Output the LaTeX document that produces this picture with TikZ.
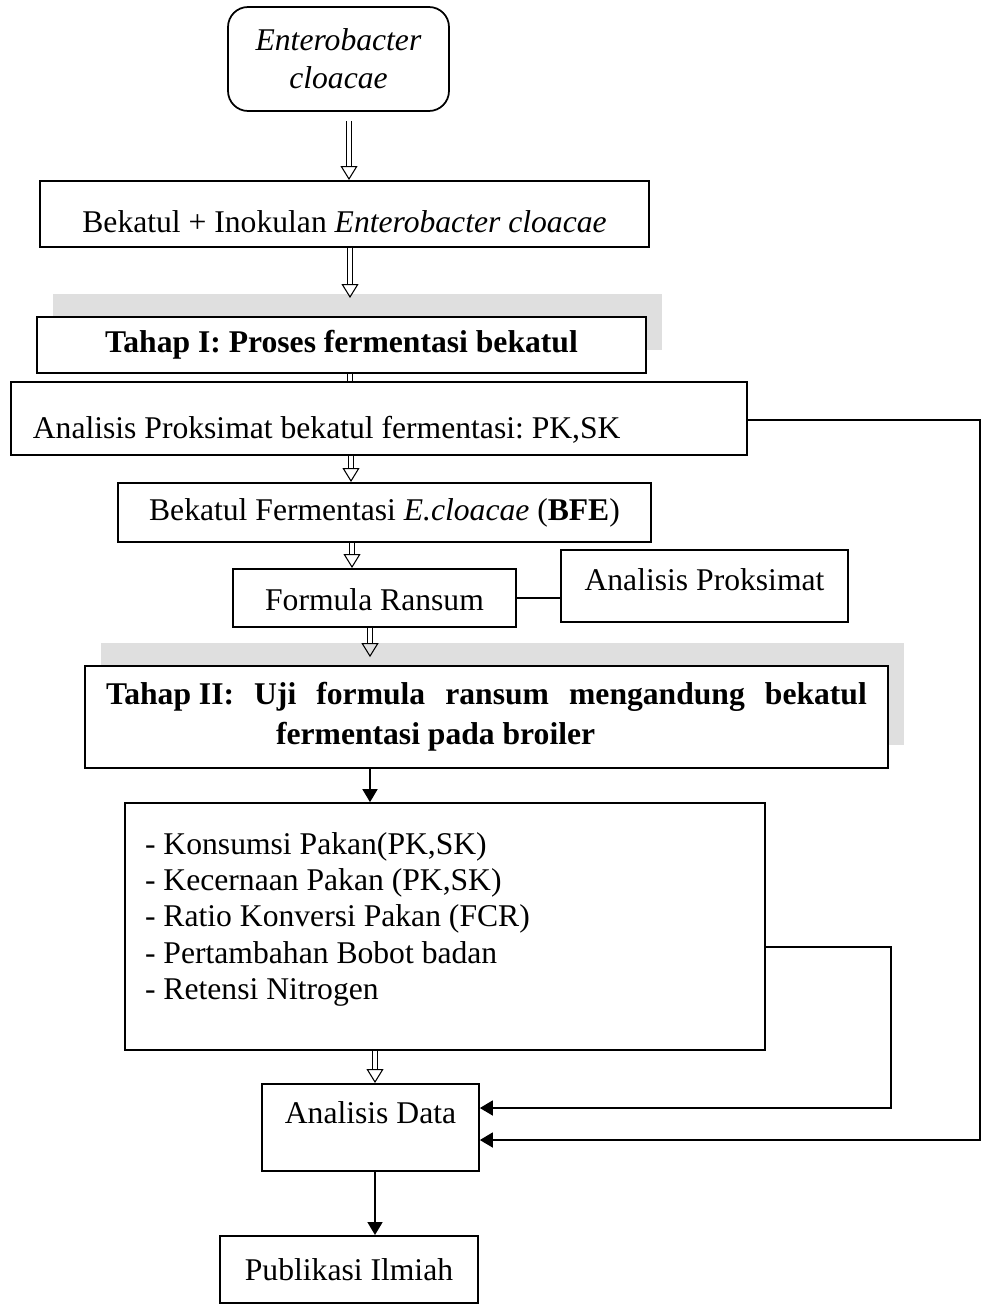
\documentclass[tikz,border=0pt]{standalone}
\usepackage{fontspec}
\setmainfont{Liberation Serif}
\usetikzlibrary{arrows.meta,shadows,positioning}

\begin{document}
\begin{tikzpicture}[
  x=0.02cm, y=-0.02cm,
  box/.style={draw, line width=1pt, fill=white, align=center, font=\fontsize{18}{21.5}\selectfont},
  txt/.style 2 args={inner ysep=0pt, text height=#1, text depth=#2},
  bold/.style={font=\fontsize{18}{22.7}\selectfont\bfseries},
  shbox/.style={box, drop shadow={shadow xshift=0.32cm, shadow yshift=0.46cm, fill=gray!25, opacity=1}},
  hol/.style={double, double distance=2.3pt, line width=0.6pt, -{Triangle[open, length=2.8mm, width=3.4mm]}},
  dbl/.style={double, double distance=2.3pt, line width=0.6pt},
  arr/.style={line width=1pt, -{Triangle[length=2.6mm, width=3mm]}}
]
\useasboundingbox (0,0) rectangle (983,1304);

\node[box, rounded corners=0.4cm, minimum width=4.42cm, minimum height=2.08cm] (ent) at (338.5,59) {\textit{Enterobacter}\\\textit{cloacae}};
\node[box, txt={1.04cm}{0.28cm}, minimum width=12.18cm, anchor=north] (bek) at (344.5,180) {Bekatul + Inokulan \textit{Enterobacter cloacae}};
\node[shbox, bold, txt={0.72cm}{0.40cm}, minimum width=12.18cm, anchor=north] (tah1) at (341.5,316) {Tahap I: Proses fermentasi bekatul};
\node[box, txt={1.14cm}{0.32cm}, text width=13.84cm, inner xsep=0.44cm, align=left, anchor=north west] (anp1) at (10,381)
  {\frenchspacing\spaceskip=0.25em\relax Analisis Proksimat bekatul fermentasi: PK,SK};
\node[box, txt={0.76cm}{0.42cm}, minimum width=10.66cm, anchor=north] (bfe) at (384.5,482) {Bekatul Fermentasi \textit{E.cloacae} (\textbf{BFE})};
\node[box, txt={0.84cm}{0.32cm}, minimum width=5.66cm, anchor=north] (frm) at (374.5,568) {Formula Ransum};
\node[box, txt={0.82cm}{0.62cm}, minimum width=5.74cm, anchor=north] (anp2) at (704.5,549) {Analisis Proksimat};
\node[shbox, bold, text width=15.22cm, inner xsep=0.42cm, align=left, minimum height=2.04cm] (tah2) at (486.5,717)
  {\spaceskip=0.25em\relax\hbox to 15.22cm{Tahap II:\hfill Uji\hfill formula\hfill ransum\hfill mengandung\hfill bekatul}\\\hspace*{3.4cm}fermentasi pada broiler};
\node[box, font=\fontsize{18}{20.7}\selectfont, text width=12cm, inner xsep=0.4cm, align=left, minimum height=4.94cm] (kon) at (445,926.5)
  {\spaceskip=0.25em\relax- Konsumsi Pakan(PK,SK)\\- Kecernaan Pakan (PK,SK)\\- Ratio Konversi Pakan (FCR)\\- Pertambahan Bobot badan\\- Retensi Nitrogen\\[-0.3cm]\mbox{}};
\node[box, txt={0.8cm}{0.94cm}, minimum width=4.34cm, anchor=north] (dat) at (370.5,1083) {Analisis Data};
\node[box, txt={0.9cm}{0.44cm}, minimum width=5.16cm, anchor=north] (pub) at (349,1235) {Publikasi Ilmiah};

% alur utama
\draw[hol, shorten <=0.18cm] (ent.south -| 349,0) -- (bek.north -| 349,0);
\draw[hol, shorten >=0.36cm] (bek.south -| 350,0) -- (tah1.north -| 350,0);
\draw[dbl] (tah1.south -| 350,0) -- (anp1.north -| 350,0);
\draw[hol] (anp1.south -| 351,0) -- (bfe.north -| 351,0);
\draw[hol] (bfe.south -| 352,0) -- (frm.north -| 352,0);
\draw[hol, shorten >=0.16cm] (frm.south -| 370,0) -- (tah2.north -| 370,0);
\draw[arr] (tah2.south -| 370,0) -- (kon.north -| 370,0);
\draw[hol] (kon.south -| 375,0) -- (dat.north -| 375,0);
\draw[arr] (dat.south -| 375,0) -- (pub.north -| 375,0);
\draw[line width=1pt] (frm.east) -- (frm.east -| anp2.west);

% umpan balik ke analisis data
\draw[arr] (anp1.east |- 0,420) -- ++(232,0) |- (dat.east |- 0,1140);
\draw[arr] (kon.east |- 0,947) -- ++(125,0) |- (dat.east |- 0,1108);
\end{tikzpicture}
\end{document}
